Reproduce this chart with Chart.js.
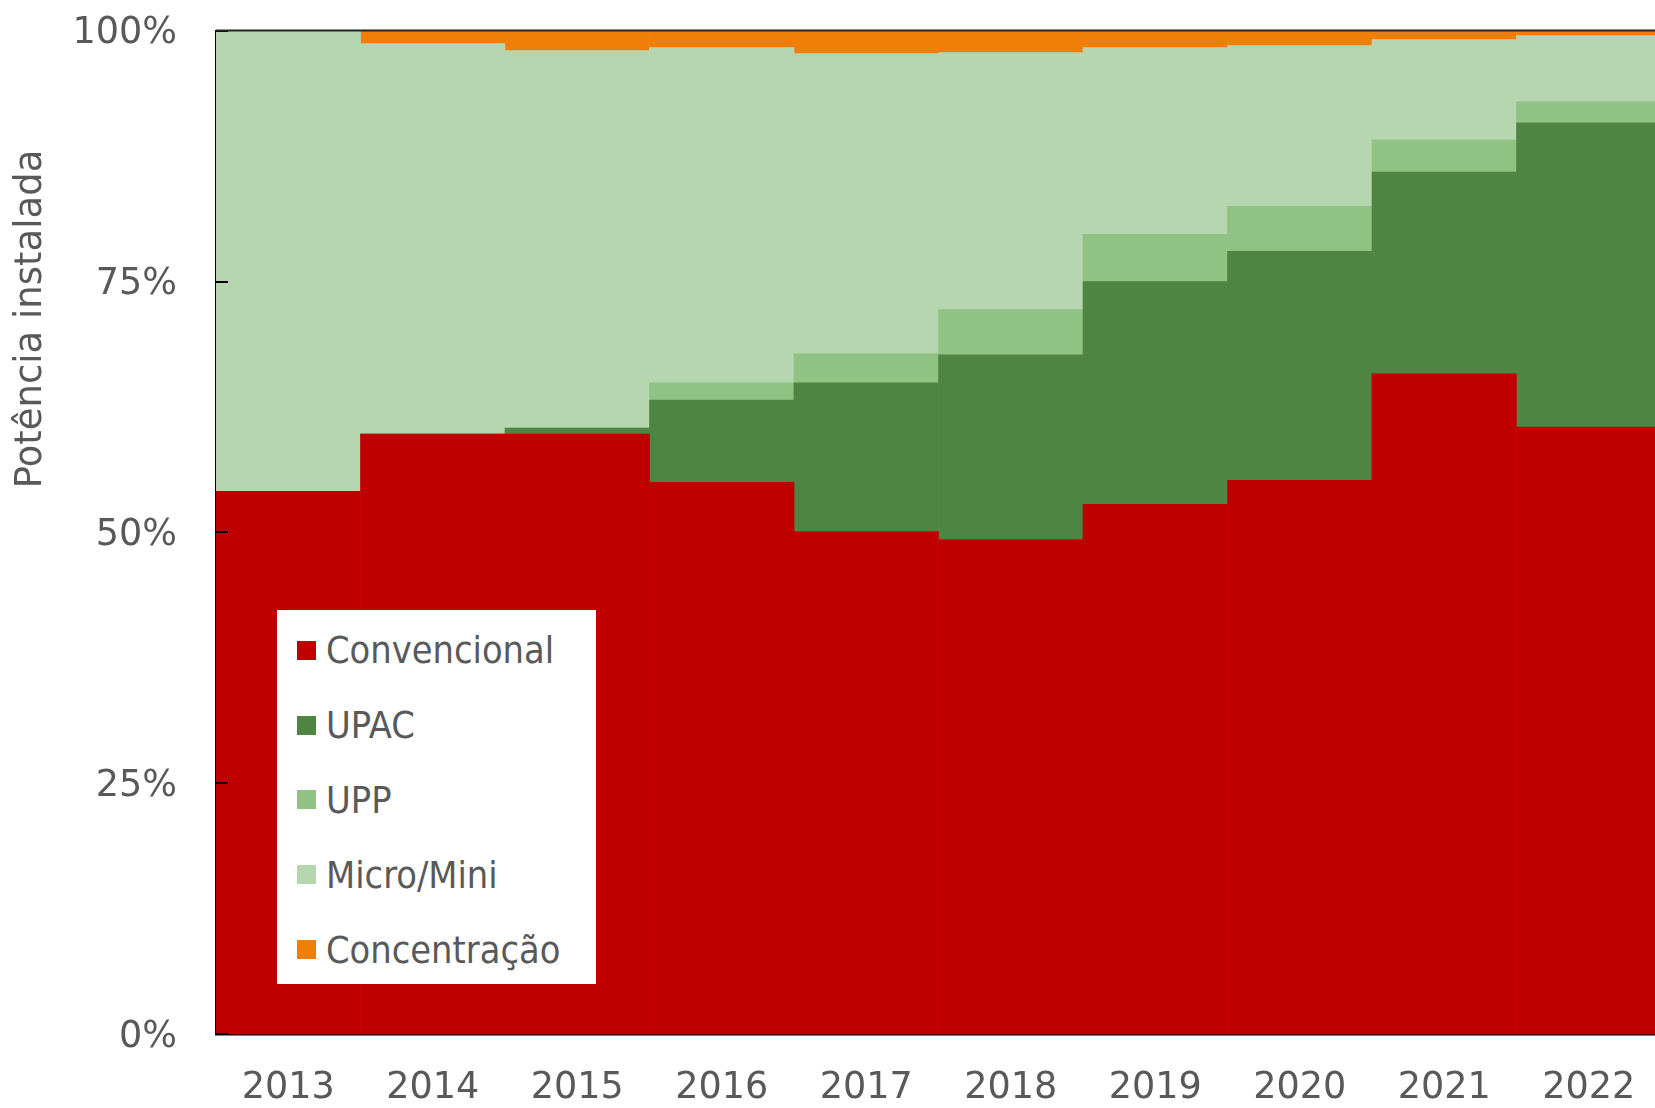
<!DOCTYPE html>
<html>
<head>
<meta charset="utf-8">
<script src="https://cdn.jsdelivr.net/npm/chart.js@4"></script>
<style>
  body { margin: 0; overflow: hidden; background: #fff; }
  #wrap { position: relative; width: 1665px; height: 1108px; }
  #legend {
    position: absolute; left: 277px; top: 610px; width: 319px; height: 374px;
    background: #fff; box-sizing: border-box; padding-top: 3px;
  }
  .item { display: flex; align-items: center; height: 74.8px;
    font-family: "DejaVu Sans Condensed", "DejaVu Sans", sans-serif; font-size: 37.6px; color: #595959; }
  .box { width: 19px; height: 19px; margin-left: 20px; margin-right: 10px; }
</style>
</head>
<body>
<div id="wrap">
  <canvas id="chart" width="1665" height="1108"></canvas>
  <div id="legend"></div>
</div>
<script>
const years = ['2013', '2014', '2015', '2016', '2017', '2018', '2019', '2020', '2021', '2022']
const convencional = [54.1, 59.8, 59.8, 55.0, 50.1, 49.3, 52.8, 55.2, 65.8, 60.5]
const upac = [0, 0, 0.6, 8.2, 14.8, 18.4, 22.2, 22.8, 20.1, 30.3]
const upp = [0, 0, 0, 1.7, 2.9, 4.5, 4.7, 4.5, 3.2, 2.1]
const microMini = [45.9, 38.9, 37.6, 33.4, 29.9, 25.6, 18.6, 16.0, 10.0, 6.6]
const concentracao = [0, 1.3, 2.0, 1.7, 2.3, 2.2, 1.7, 1.5, 0.9, 0.5]
const yTicks = [0, 25, 50, 75, 100]

const grey = '#595959'
const tickFont = { family: 'DejaVu Sans', size: 36.6 }

// axis title + inner tick marks + top frame line
const extras = {
    id: 'extras',
    afterDraw(chart) {
        const ctx = chart.ctx
        const area = chart.chartArea
        const y = chart.scales.y
        ctx.save()
        ctx.strokeStyle = '#000'
        ctx.lineWidth = 2
        yTicks.forEach(v => {
            let py = Math.round(y.getPixelForValue(v))
            ctx.beginPath()
            ctx.moveTo(area.left, py)
            ctx.lineTo(area.left + 12, py)
            ctx.stroke()
        })
        ctx.strokeStyle = '#262626'
        ctx.beginPath()
        ctx.moveTo(area.left, area.top)
        ctx.lineTo(area.right, area.top)
        ctx.stroke()
        ctx.translate(31, 319)
        ctx.rotate(-Math.PI / 2)
        ctx.fillStyle = grey
        ctx.font = '37px "DejaVu Sans"'
        ctx.textAlign = 'center'
        ctx.textBaseline = 'middle'
        ctx.fillText('Potência instalada', 0, 0)
        ctx.restore()
    }
}

const chart = new Chart(document.getElementById('chart'), {
    type: 'bar',
    data: {
        labels: years,
        datasets: [
            { label: 'Convencional', data: convencional, backgroundColor: '#C00000' },
            { label: 'UPAC', data: upac, backgroundColor: '#4E8542' },
            { label: 'UPP', data: upp, backgroundColor: '#90C284' },
            { label: 'Micro/Mini', data: microMini, backgroundColor: '#B5D6AE' },
            { label: 'Concentração', data: concentracao, backgroundColor: '#F07F09' }
        ]
    },
    options: {
        responsive: false,
        animation: false,
        layout: { padding: { top: 30.6, right: 4, bottom: 3.6, left: 0 } },
        datasets: { bar: { barPercentage: 1, categoryPercentage: 1, borderWidth: 0 } },
        plugins: { legend: { display: false }, tooltip: { enabled: false } },
        scales: {
            x: {
                stacked: true,
                grid: { display: false },
                border: { display: true, color: '#000', width: 2.5 },
                afterFit: s => { s.height = 70; s.paddingLeft = 0; s.paddingRight = 0 },
                ticks: { color: grey, font: tickFont, padding: 24.5, maxRotation: 0 }
            },
            y: {
                stacked: true,
                min: 0,
                max: 100,
                grid: { display: false, drawTicks: false },
                border: { display: true, color: '#000', width: 2 },
                afterFit: s => { s.width = 216; s.paddingTop = 0; s.paddingBottom = 0 },
                afterBuildTicks: s => { s.ticks = yTicks.map(v => ({ value: v })) },
                ticks: { color: grey, font: tickFont, padding: 39, labelOffset: 3, callback: v => v + '%' }
            }
        }
    },
    plugins: [extras]
})

// legend in a white box over the plot
let legend = document.getElementById('legend')
chart.data.datasets.forEach(ds => {
    let row = document.createElement('div')
    row.className = 'item'
    row.innerHTML = '<span class="box" style="background:' + ds.backgroundColor + '"></span>' + ds.label
    legend.appendChild(row)
})
</script>
</body>
</html>
